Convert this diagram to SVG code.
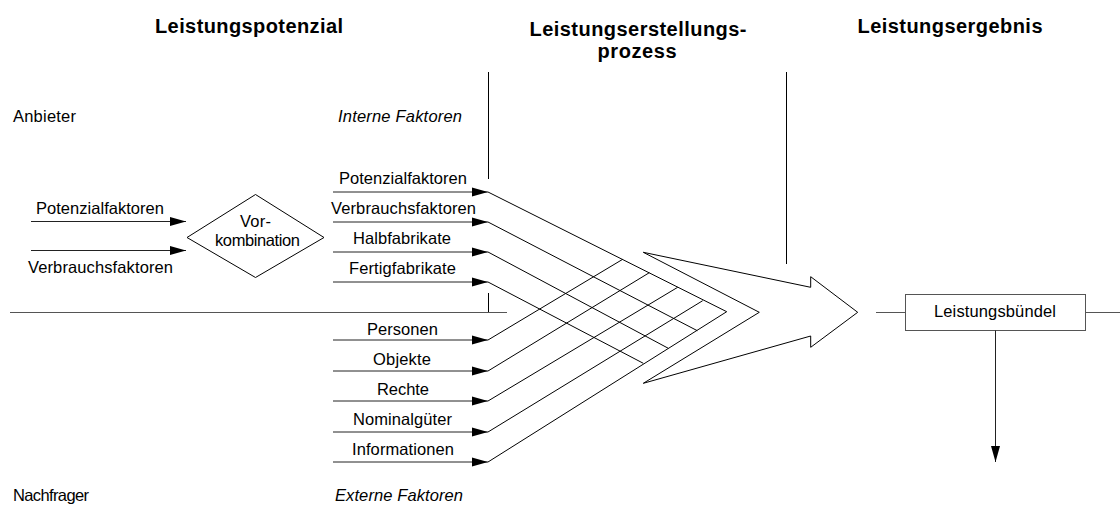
<svg xmlns="http://www.w3.org/2000/svg" width="1120" height="514" viewBox="0 0 1120 514">
<style>
text{font-family:"Liberation Sans",Arial,sans-serif;font-size:16.5px;fill:#000}
.h{font-weight:bold;font-size:20px}
.i{font-style:italic}
.m{text-anchor:middle}
.ln{stroke:#000;stroke-width:1;fill:none}
.g{stroke:#555;stroke-width:1;fill:none}
.ar{stroke:#222;stroke-width:1;fill:none;marker-end:url(#ah)}
</style>
<defs>
<marker id="ah" markerUnits="userSpaceOnUse" markerWidth="16" markerHeight="10" refX="16" refY="5" orient="auto">
<path d="M0,0.5 L16,5 L0,9.5 z" fill="#000"/>
</marker>
</defs>
<rect width="1120" height="514" fill="#fff"/>

<g id="headers">
<text class="h m" x="249" y="33" textLength="188" lengthAdjust="spacing">Leistungspotenzial</text>
<text class="h m" x="638" y="36" textLength="217" lengthAdjust="spacing">Leistungserstellungs-</text>
<text class="h m" x="637" y="58" textLength="79" lengthAdjust="spacing">prozess</text>
<text class="h m" x="950" y="33" textLength="185" lengthAdjust="spacing">Leistungsergebnis</text>
<text x="13" y="122" textLength="63" lengthAdjust="spacing">Anbieter</text>
<text class="i" x="338" y="122" textLength="124" lengthAdjust="spacing">Interne Faktoren</text>
<text x="13" y="501" textLength="76" lengthAdjust="spacing">Nachfrager</text>
<text class="i" x="335" y="501" textLength="128" lengthAdjust="spacing">Externe Faktoren</text>
</g>

<g id="frame">
<line class="ln" x1="488.5" y1="72" x2="488.5" y2="179"/>
<line class="ln" x1="488.5" y1="293" x2="488.5" y2="312"/>
<line class="ln" x1="786.5" y1="72" x2="786.5" y2="264"/>
<line class="g" x1="10" y1="312.5" x2="507" y2="312.5"/>
</g>

<g id="vorkombination">
<polygon class="ln" points="187,237.5 255.5,194.5 324,237.5 255.5,277.5"/>
<text class="m" x="255.5" y="227" textLength="31" lengthAdjust="spacing">Vor-</text>
<text class="m" x="257.5" y="246" textLength="85" lengthAdjust="spacing">kombination</text>
</g>

<g id="left-labels">
<text class="m" x="100" y="214" textLength="128" lengthAdjust="spacing">Potenzialfaktoren</text>
<text class="m" x="100.5" y="273" textLength="145" lengthAdjust="spacing">Verbrauchsfaktoren</text>
</g>

<g id="interne-faktoren">
<text class="m" x="403" y="184" textLength="128" lengthAdjust="spacing">Potenzialfaktoren</text>
<text class="m" x="403.5" y="214" textLength="145" lengthAdjust="spacing">Verbrauchsfaktoren</text>
<text class="m" x="402" y="244" textLength="98" lengthAdjust="spacing">Halbfabrikate</text>
<text class="m" x="402.5" y="274" textLength="107" lengthAdjust="spacing">Fertigfabrikate</text>
</g>

<g id="externe-faktoren">
<text class="m" x="402.5" y="335" textLength="71" lengthAdjust="spacing">Personen</text>
<text class="m" x="402" y="365" textLength="58" lengthAdjust="spacing">Objekte</text>
<text class="m" x="403" y="395" textLength="52" lengthAdjust="spacing">Rechte</text>
<text class="m" x="402.5" y="425" textLength="99" lengthAdjust="spacing">Nominalgüter</text>
<text class="m" x="403" y="455" textLength="102" lengthAdjust="spacing">Informationen</text>
</g>

<g id="prozess-pfeil">
<polygon class="ln" points="643.3,252.3 810.7,287.3 810.7,276.7 857.7,312.3 810.7,347.3 810.7,336 643.3,383.3 759.3,312.3"/>
</g>

<g id="leistungsbuendel">
<rect class="g" x="905.5" y="294.5" width="180" height="36" fill="#fff"/>
<text class="m" x="995" y="317" textLength="122" lengthAdjust="spacing">Leistungsbündel</text>
</g>

<g id="connectors">
<line class="ar" x1="31" y1="221.5" x2="186" y2="221.5"/>
<line class="ar" x1="31" y1="250.5" x2="186" y2="250.5"/>

<line class="ar" x1="333" y1="192" x2="488" y2="192"/>
<line class="ar" x1="333" y1="222" x2="488" y2="222"/>
<line class="ar" x1="333" y1="252" x2="488" y2="252"/>
<line class="ar" x1="333" y1="282" x2="488" y2="282"/>

<line class="ar" x1="333" y1="340" x2="488" y2="340"/>
<line class="ar" x1="333" y1="371" x2="488" y2="371"/>
<line class="ar" x1="333" y1="401" x2="488" y2="401"/>
<line class="ar" x1="333" y1="432" x2="488" y2="432"/>
<line class="ar" x1="333" y1="462" x2="488" y2="462"/>

<line class="ln" x1="488" y1="192" x2="726.7" y2="311.7"/>
<line class="ln" x1="488" y1="222" x2="697.3" y2="330.7"/>
<line class="ln" x1="488" y1="252" x2="668.3" y2="348.3"/>
<line class="ln" x1="488" y1="282" x2="643.3" y2="363.3"/>

<line class="ln" x1="488" y1="340" x2="622.7" y2="259.3"/>
<line class="ln" x1="488" y1="371" x2="649.3" y2="272.7"/>
<line class="ln" x1="488" y1="401" x2="677.7" y2="287.3"/>
<line class="ln" x1="488" y1="432" x2="702.7" y2="300.7"/>
<line class="ln" x1="488" y1="462" x2="726.7" y2="311.7"/>

<line class="g" x1="876" y1="312.5" x2="905.5" y2="312.5"/>
<line class="g" x1="1085.5" y1="312.5" x2="1120" y2="312.5"/>
<line class="ar" x1="995.5" y1="330.5" x2="995.5" y2="462"/>
</g>
</svg>
